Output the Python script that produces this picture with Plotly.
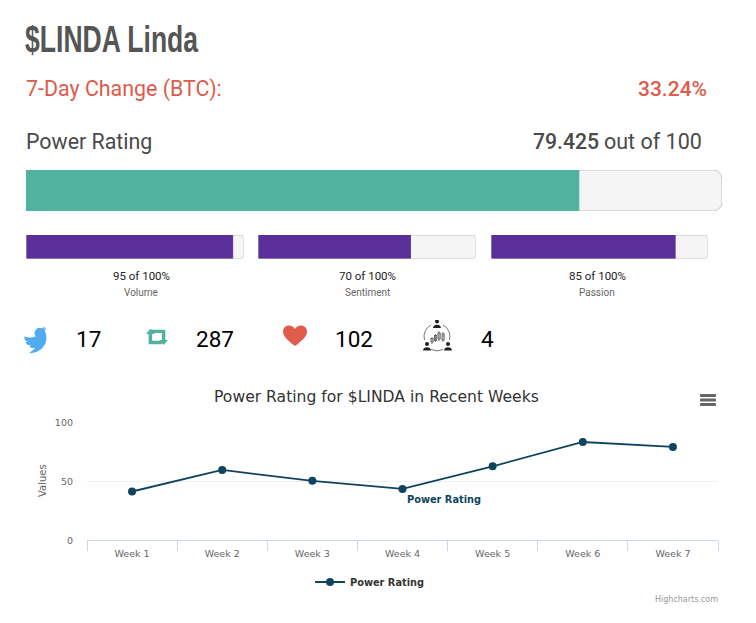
import base64
import plotly.graph_objects as go

W, H = 756, 623

# ---- data ----
weeks = ["Week 1", "Week 2", "Week 3", "Week 4", "Week 5", "Week 6", "Week 7"]
power_values = [41.5, 59.8, 50.6, 43.7, 62.9, 83.6, 79.425]
series_name = "Power Rating"
power_rating = 79.425
sub_names = ["Volume", "Sentiment", "Passion"]
sub_values = [95, 70, 85]
change_7d = "33.24%"
counts = ["17", "287", "102", "4"]

NAVY = "#0f4460"
RED = "#dd5c4c"
TEAL = "#51b29d"
PURPLE = "#5a3098"
TRACK = "#f5f5f5"
TRACK_LINE = "#c4c4c4"


def px(x):
    return x / W


def py(y):
    return 1 - y / H


def svg(body, vb="0 0 24 24"):
    s = f'<svg xmlns="http://www.w3.org/2000/svg" viewBox="{vb}">{body}</svg>'
    return "data:image/svg+xml;base64," + base64.b64encode(s.encode()).decode()


def icon(src, x0, y0, x1, y1):
    return dict(source=src, xref="paper", yref="paper", x=px(x0), y=py(y0),
                sizex=px(x1) - px(x0), sizey=py(y0) - py(y1),
                xanchor="left", yanchor="top", sizing="stretch", layer="above")


def text(x, y, s, size, color, family="Roboto", anchor="left", weight=None, angle=0):
    return dict(xref="paper", yref="paper", x=px(x), y=py(y), text=s, showarrow=False,
                xanchor=anchor, yanchor="middle", textangle=angle, borderpad=0,
                font=dict(family=family, size=size, color=color, weight=weight))


fig = go.Figure()

# line chart
fig.add_trace(go.Scatter(x=weeks, y=power_values, name=series_name, mode="lines+markers",
                         line=dict(color=NAVY, width=1.8), marker=dict(color=NAVY, size=8),
                         cliponaxis=False, xaxis="x", yaxis="y", showlegend=True))


def bar_pair(value, axis_idx, radius):
    for val, color, r in ((100, TRACK, radius), (value, None, 0)):
        fig.add_trace(go.Bar(
            x=[val], y=[""], orientation="h", showlegend=False, width=1,
            marker=dict(color=color or bar_color[axis_idx], cornerradius=r,
                        line=dict(color=TRACK_LINE if color else bar_color[axis_idx], width=1)),
            xaxis=f"x{axis_idx}", yaxis=f"y{axis_idx}"))


bar_color = {2: TEAL, 3: PURPLE, 4: PURPLE, 5: PURPLE}
bar_pair(power_rating, 2, 9)
for i, v in enumerate(sub_values):
    bar_pair(v, 3 + i, 3)

layout = dict(
    width=W, height=H, autosize=False,
    margin=dict(l=0, r=0, t=0, b=0, autoexpand=False),
    paper_bgcolor="white", plot_bgcolor="white", barmode="overlay",
    showlegend=True,
    legend=dict(orientation="h", x=px(370), xanchor="center", y=py(582), yanchor="middle",
                font=dict(family="DejaVu Sans", size=9.8, color="#333", weight="bold"),
                bgcolor="rgba(0,0,0,0)"),
    xaxis=dict(domain=[px(87), px(718)], range=[-0.5, 6.5], type="category",
               tickson="boundaries", ticks="outside", ticklen=10, tickcolor="#ccd6eb",
               showline=True, linecolor="#ccd6eb", showgrid=False, anchor="y",
               ticklabelstandoff=4,
               tickfont=dict(family="DejaVu Sans", size=9.5, color="#666")),
    yaxis=dict(domain=[py(540.3), py(422.7)], range=[0, 100], tickvals=[0, 50, 100],
               gridcolor="#f0f0f2", zeroline=False, showline=False, ticks="", anchor="x",
               ticklabelstandoff=13,
               tickfont=dict(family="DejaVu Sans", size=9.5, color="#666")),
)

bar_boxes = {2: (26, 722, 170, 211), 3: (26.5, 243.5, 235, 258.5),
             4: (258.5, 475.5, 235, 258.5), 5: (491.5, 707.5, 235, 258.5)}
for k, (x0, x1, y0, y1) in bar_boxes.items():
    layout[f"xaxis{k}"] = dict(domain=[px(x0), px(x1)], range=[0, 100], visible=False,
                               anchor=f"y{k}", fixedrange=True)
    layout[f"yaxis{k}"] = dict(domain=[py(y1), py(y0)], visible=False, anchor=f"x{k}",
                               fixedrange=True)

ann = [
    text(112, 40, "$LINDA Linda", 37, "#555555", "Liberation Sans", anchor="center", weight="bold"),
    text(25, 89, "7-Day Change (BTC):", 21.4, RED),
    text(708, 89, change_7d, 21, RED, anchor="right", weight=500),
    text(25, 142, "Power Rating", 21.4, "#4a4a4a"),
    text(600, 142, f"{power_rating:g}", 21.2, "#4a4a4a", anchor="right", weight=500),
    text(703, 142, "out of 100", 21.5, "#4a4a4a", anchor="right"),
    text(376, 397, "Power Rating for $LINDA in Recent Weeks", 15.6, "#333333", "DejaVu Sans", anchor="center"),
    text(42, 481, "Values", 10, "#666666", "DejaVu Sans", anchor="center", angle=-90),
    text(406, 499, "<b>" + series_name + "</b>", 9.8, NAVY, "DejaVu Sans"),
    text(719, 599, "Highcharts.com", 8, "#999999", "DejaVu Sans", anchor="right"),
]
centers = [141, 367, 597]
for c, name, v in zip(centers, sub_names, sub_values):
    ann.append(text(c, 276, f"{v} of 100%", 11.5, "#222222", anchor="center"))
    ann.append(text(c, 292.5, name, 10, "#666666", anchor="center"))
for c, s in zip([88, 214.5, 353.5, 487.5], counts):
    ann.append(text(c, 339, s, 22.5, "#000000", anchor="center"))
layout["annotations"] = ann

BIRD = ('<path transform="rotate(-24 12 12)" fill="#50abf1" d="M23.953 4.57a10 10 0 01-2.825.775 4.958 4.958 0 002.163-2.723c-.951.555-2.005.959-3.127 '
        '1.184a4.92 4.92 0 00-8.384 4.482C7.69 8.095 4.067 6.13 1.64 3.162a4.822 4.822 0 00-.666 2.475c0 1.71.87 3.213 '
        '2.188 4.096a4.904 4.904 0 01-2.228-.616v.06a4.923 4.923 0 003.946 4.827 4.996 4.996 0 01-2.212.085 4.936 4.936 '
        '0 004.604 3.417 9.867 9.867 0 01-6.102 2.105c-.39 0-.779-.023-1.17-.067a13.995 13.995 0 007.557 2.209c9.053 0 '
        '13.998-7.496 13.998-13.985 0-.21 0-.42-.015-.63A9.935 9.935 0 0024 4.59z"/>')
RETWEET = ('<g fill="none" stroke="#51b29d" stroke-width="4"><path d="M4 4V17H17"/><path d="M3 4H19V16"/></g>'
           '<path fill="#51b29d" d="M-1 7L4 1 9 7z M14 14H24L19 20z"/>')
HEART = ('<path fill="#e05d4b" d="M12 23C4 16 0 12 0 7c0-4 3-6.500 6-6.500 2.500 0 4.700 1.300 6 3.800C13.300 1.800 15.500 .5 18 .5'
         'c3 0 6 2.500 6 6.500 0 5-4 9-12 16z"/>')
person = '<circle cx="{x}" cy="{y}" r="2"/><path d="M{a} {b}c0-4.500 8-4.500 8 0z"/>'
GROUP = ('<g fill="#222">' + person.format(x=15, y=1.5, a=11, b=8) + person.format(x=5, y=24, a=1, b=30.5)
         + person.format(x=26, y=24, a=22, b=30.5) + '</g>'
         '<g fill="none" stroke="#555" stroke-width=".8">'
         '<path d="M9 5A13 13 0 0 0 2.500 20M21 5A13 13 0 0 1 27.500 20M9 29.500A14 14 0 0 0 21 29.500"/>'
         '<path d="M10 17V24M13.500 14V22M17 11V21M21 12V22"/>'
         '<rect x="9" y="18.500" width="2.200" height="3.500"/><rect x="12.500" y="15.500" width="2.200" height="5"/>'
         '<rect x="16" y="13" width="2.200" height="6"/><rect x="20" y="14" width="2.200" height="6"/></g>')
MENU = '<g fill="#666"><rect width="16" height="3" y="0" rx="1"/><rect width="16" height="3" y="4.500" rx="1"/><rect width="16" height="3" y="9" rx="1"/></g>'

layout["images"] = [
    icon(svg(BIRD), 24.5, 327, 50.5, 353),
    icon(svg(RETWEET, "-1 0 25 20"), 146, 328, 168, 345),
    icon(svg(HEART), 283, 325, 307, 347),
    icon(svg(GROUP, "0 0 30 32"), 422, 320, 452, 352),
    icon(svg(MENU, "0 0 16 12"), 700, 394, 716, 406),
]

fig.update_layout(**layout)

# The reference heading uses a condensed face: squeeze its real text to the same width.
squeeze = """
var headline = function () {
  var t = document.querySelector('.annotation-text');
  if (t) { t.setAttribute('textLength', '173'); t.setAttribute('lengthAdjust', 'spacingAndGlyphs'); }
};
document.body.style.margin = '0';
headline();
setTimeout(headline, 50);
"""
fig.write_html("out.html", config=dict(displayModeBar=False), post_script=squeeze)
